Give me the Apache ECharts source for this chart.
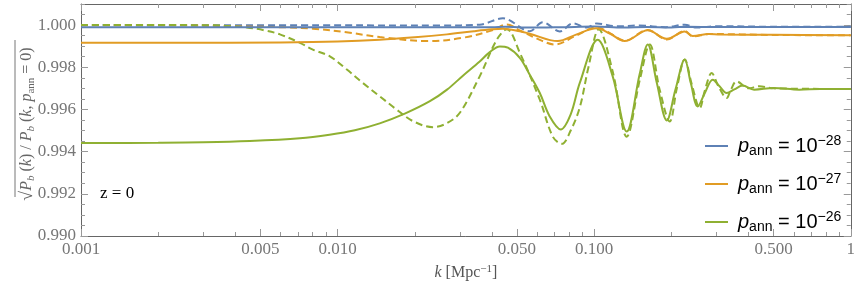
<!DOCTYPE html>
<html><head><meta charset="utf-8">
<script src="https://cdn.jsdelivr.net/npm/echarts@6/dist/echarts.min.js"></script>
<style>html,body{margin:0;padding:0;background:#fff}#c{width:858px;height:288px}</style>
</head><body><div id="c"></div>
<script>
// ---- data (k in Mpc^-1, ratio) ----
const k_blue_solid = [0.001, 0.01, 0.03, 0.04, 0.045, 0.056, 0.075, 0.1, 0.13, 0.16, 0.2, 0.23, 0.3, 1];
const v_blue_solid = [0.99990, 0.99990, 0.99990, 0.99990, 0.99992, 0.99988, 0.99990, 0.99993, 0.99988, 0.99991, 0.99989, 0.99992, 0.99991, 0.99991];

const k_blue_dash = [0.001, 0.01, 0.025, 0.0358, 0.0441, 0.0561, 0.0631, 0.0735, 0.0826, 0.0936, 0.1023, 0.1224, 0.15, 0.19, 0.2255, 0.25, 0.3, 0.5, 1];
const v_blue_dash = [1.00000, 0.99999, 0.99998, 1.00002, 1.00032, 0.99971, 1.00013, 0.99970, 1.00008, 0.99989, 1.00008, 0.99994, 0.99998, 0.99990, 1.00002, 0.99988, 0.99995, 0.99992, 0.99992];

const k_orange_solid = [0.001, 0.0024, 0.006, 0.01, 0.0146, 0.02, 0.0267, 0.034, 0.04, 0.0441, 0.0513, 0.0561, 0.0722, 0.085, 0.1023, 0.115, 0.1315, 0.1617, 0.1919, 0.2255, 0.2422, 0.28, 0.31, 0.5, 1];
const v_orange_solid = [0.99916, 0.99916, 0.99918, 0.99922, 0.99930, 0.99942, 0.99956, 0.99971, 0.99980, 0.99983, 0.99971, 0.99959, 0.99924, 0.99955, 0.99985, 0.99960, 0.99924, 0.99975, 0.99935, 0.99970, 0.99948, 0.99958, 0.99955, 0.99954, 0.99952];

const k_orange_dash = [0.001, 0.0024, 0.004, 0.006, 0.008, 0.011, 0.0146, 0.0229, 0.0308, 0.0403, 0.0457, 0.0513, 0.0614, 0.0703, 0.085, 0.1023, 0.115, 0.1315, 0.1617, 0.1919, 0.2255, 0.2422, 0.28, 0.5, 1];
const v_orange_dash = [0.99999, 0.99999, 0.99994, 0.99990, 0.99983, 0.99965, 0.99943, 0.99924, 0.99940, 0.99976, 1.00003, 0.99975, 0.99930, 0.99908, 0.99950, 0.99990, 0.99962, 0.99926, 0.99977, 0.99932, 0.99972, 0.99946, 0.99958, 0.99953, 0.99952];

const k_green_solid = [0.001, 0.002, 0.0030, 0.00455, 0.00713, 0.0093, 0.01167, 0.0146, 0.01828, 0.0229, 0.0267, 0.0308, 0.0358, 0.0392, 0.0429, 0.0461, 0.0513, 0.0561, 0.0614, 0.0671, 0.0741, 0.081, 0.0879, 0.1032, 0.1181, 0.1339, 0.1506, 0.1617, 0.1754, 0.1919, 0.2074, 0.2255, 0.238, 0.2533, 0.27, 0.2897, 0.308, 0.3286, 0.352, 0.379, 0.42, 0.5, 0.63, 0.76, 1];
const v_green_solid = [0.99441, 0.99442, 0.99444, 0.99450, 0.99463, 0.99480, 0.99501, 0.99534, 0.99580, 0.99639, 0.99694, 0.99760, 0.99827, 0.99872, 0.99899, 0.99893, 0.99845, 0.99765, 0.99678, 0.99567, 0.99505, 0.99577, 0.99726, 0.99930, 0.99757, 0.99495, 0.99770, 0.99908, 0.99727, 0.99548, 0.99694, 0.99837, 0.99725, 0.99614, 0.99678, 0.99741, 0.99710, 0.99678, 0.99695, 0.99713, 0.99694, 0.99702, 0.99694, 0.99697, 0.99697];

const k_green_dash = [0.001, 0.002, 0.0033, 0.0038, 0.00443, 0.0052, 0.00596, 0.00713, 0.00801, 0.00933, 0.01087, 0.0125, 0.01461, 0.0170, 0.01965, 0.0235, 0.0265, 0.0299, 0.0358, 0.0418, 0.0457, 0.0513, 0.0614, 0.0690, 0.0748, 0.081, 0.0879, 0.095, 0.1042, 0.1181, 0.1339, 0.1506, 0.1647, 0.18, 0.1971, 0.21, 0.2255, 0.24, 0.2579, 0.27, 0.2871, 0.305, 0.3286, 0.34, 0.3591, 0.40, 0.44, 0.5, 1];
const v_green_dash = [1.00000, 1.00000, 0.99999, 0.99995, 0.99989, 0.99975, 0.99956, 0.99916, 0.99884, 0.99852, 0.99789, 0.99727, 0.99662, 0.99599, 0.99545, 0.99516, 0.99533, 0.99583, 0.99757, 0.99932, 0.99980, 0.99869, 0.99646, 0.99471, 0.99437, 0.99500, 0.99610, 0.99800, 0.99980, 0.99780, 0.99471, 0.99740, 0.99908, 0.99694, 0.99543, 0.99700, 0.99837, 0.99720, 0.99607, 0.99690, 0.99773, 0.99710, 0.99654, 0.99690, 0.99733, 0.99700, 0.99710, 0.99700, 0.99697];

const legendExponents = ['−28', '−27', '−26'];
const xMajorTicks = [0.001, 0.005, 0.01, 0.05, 0.1, 0.5, 1];
const xTickLabels = ['0.001', '0.005', '0.010', '0.050', '0.100', '0.500', '1'];
const xMinorTicks = [0.002,0.003,0.004,0.006,0.007,0.008,0.009,0.02,0.03,0.04,0.06,0.07,0.08,0.09,0.2,0.3,0.4,0.6,0.7,0.8,0.9];
const yMajorTicks = [0.990, 0.992, 0.994, 0.996, 0.998, 1.000];
const yMinorTicks = [0.9905,0.991,0.9915,0.9925,0.993,0.9935,0.9945,0.995,0.9955,0.9965,0.997,0.9975,0.9985,0.999,0.9995,1.0005,1.001];

const C_BLUE = '#5E81B5', C_ORANGE = '#E19C24', C_GREEN = '#8FB032';
const SERIF = '"Liberation Serif", "DejaVu Serif", serif';
const SANS = '"Liberation Sans", Arial, sans-serif';

const zip = (ks, vs) => ks.map((k, i) => [k, vs[i]]);
const names = ['p28', 'p27', 'p26'];

function line(name, ks, vs, color, dashed) {
  return {
    type: 'line', name, data: zip(ks, vs), xAxisIndex: 0, yAxisIndex: 0,
    showSymbol: false, symbol: 'none', smooth: 0.35, silent: true, animation: false,
    lineStyle: { color, width: 2, type: dashed ? [7, 4] : 'solid' },
    itemStyle: { color }, z: dashed ? 2 : 3
  };
}

const axisCol = '#666';
const tickCol = '#999';
function xAx(pos, ticks, len, showLine, labels) {
  return {
    type: 'log', logBase: 10, min: 0.001, max: 1, position: pos,
    axisLine: { show: showLine, onZero: false, lineStyle: { color: axisCol, width: 1 } },
    axisTick: { show: true, inside: true, length: len, customValues: ticks, lineStyle: { color: tickCol, width: 1 } },
    axisLabel: labels ? {
      show: true, customValues: ticks, margin: 5,
      formatter: v => { const i = xMajorTicks.findIndex(t => Math.abs(t - v) / t < 1e-6); return i >= 0 ? xTickLabels[i] : ''; },
      fontFamily: SERIF, fontSize: 17, color: '#777'
    } : { show: false },
    splitLine: { show: false }, minorTick: { show: false }
  };
}
function yAx(pos, ticks, len, showLine, labels) {
  return {
    type: 'value', min: 0.990, max: 1.001, position: pos, scale: true,
    axisLine: { show: showLine, onZero: false, lineStyle: { color: axisCol, width: 1 } },
    axisTick: { show: true, inside: true, length: len, customValues: ticks, lineStyle: { color: tickCol, width: 1 } },
    axisLabel: labels ? {
      show: true, customValues: ticks, margin: 5,
      formatter: v => v.toFixed(3), fontFamily: SERIF, fontSize: 17, color: '#777'
    } : { show: false },
    splitLine: { show: false }
  };
}

const xMain = xAx('bottom', xMajorTicks, 7, true, true);
xMain.name = '{i|k} [Mpc{sup|−1}]';
xMain.nameLocation = 'middle';
xMain.nameGap = 28;
xMain.nameTextStyle = { fontFamily: SERIF, fontSize: 16, color: '#555',
  rich: { i: { fontFamily: SERIF, fontSize: 16, fontStyle: 'italic', color: '#555' },
          sup: { fontFamily: SERIF, fontSize: 11, color: '#555', verticalAlign: 'top', lineHeight: 18 } } };

const chart = echarts.init(document.getElementById('c'), null, { renderer: 'canvas' });
chart.setOption({
  animation: false,
  backgroundColor: '#fff',
  grid: { left: 81, right: 7, top: 4, bottom: 52, containLabel: false },
  xAxis: [
    xMain,
    xAx('bottom', xMinorTicks, 4, false, false),
    xAx('top', xMajorTicks, 7, true, false),
    xAx('top', xMinorTicks, 4, false, false)
  ],
  yAxis: [
    yAx('left', yMajorTicks, 7, true, true),
    yAx('left', yMinorTicks, 4, false, false),
    yAx('right', yMajorTicks, 7, true, false),
    yAx('right', yMinorTicks, 4, false, false)
  ],
  legend: {
    data: names, orient: 'vertical', left: 700, top: 129,
    itemWidth: 23, itemHeight: 2, itemGap: 14, icon: 'rect',
    selectedMode: false,
    formatter: n => '{p|p}{s|ann}{n| = 10}{e|' + legendExponents[names.indexOf(n)] + '}',
    textStyle: {
      fontFamily: SANS, fontSize: 20, color: '#000', lineHeight: 24, padding: [0, 0, 0, 5],
      rich: {
        p: { fontFamily: SANS, fontSize: 20, fontStyle: 'italic', color: '#000', lineHeight: 24 },
        s: { fontFamily: SANS, fontSize: 14, color: '#000', verticalAlign: 'bottom', lineHeight: 24, padding: [6, 0, 0, 0] },
        n: { fontFamily: SANS, fontSize: 20, color: '#000', lineHeight: 24 },
        e: { fontFamily: SANS, fontSize: 14, color: '#000', verticalAlign: 'top', lineHeight: 24 }
      }
    }
  },
  graphic: [
    { type: 'text', left: 100, top: 185, silent: true,
      style: { text: 'z = 0', font: '17px "Liberation Serif"', fill: '#000' } },
    { type: 'group', x: 27, y: 124, rotation: Math.PI / 2, silent: true, children: [
      { type: 'text', x: 0, y: 0,
        style: {
          text: '{r|√}{i|P}{s|b}{n| (}{i|k}{n|) / }{i|P}{s|b}{n| (}{i|k}{n|, }{i|p}{t|ann}{n| = 0)}',
          align: 'center', verticalAlign: 'middle', fill: '#666',
          font: '16px "Liberation Serif"',
          rich: {
            r: { fontFamily: SERIF, fontSize: 18, fill: '#666' },
            i: { fontFamily: SERIF, fontSize: 16, fontStyle: 'italic', fill: '#666' },
            n: { fontFamily: SERIF, fontSize: 16, fill: '#666' },
            s: { fontFamily: SERIF, fontSize: 11, fontStyle: 'italic', fill: '#666', verticalAlign: 'bottom', padding: [8, 0, 0, 0] },
            t: { fontFamily: SERIF, fontSize: 11, fill: '#666', verticalAlign: 'bottom', padding: [8, 0, 0, 0] }
          }
        } },
      { type: 'line', shape: { x1: -73, y1: -12, x2: 84, y2: -12 }, style: { stroke: '#777', lineWidth: 1 } }
    ] }
  ],
  series: [
    line('d28', k_blue_dash, v_blue_dash, C_BLUE, true),
    line('d27', k_orange_dash, v_orange_dash, C_ORANGE, true),
    line('d26', k_green_dash, v_green_dash, C_GREEN, true),
    line('p28', k_blue_solid, v_blue_solid, C_BLUE, false),
    line('p27', k_orange_solid, v_orange_solid, C_ORANGE, false),
    line('p26', k_green_solid, v_green_solid, C_GREEN, false)
  ]
});
</script>
</body></html>
